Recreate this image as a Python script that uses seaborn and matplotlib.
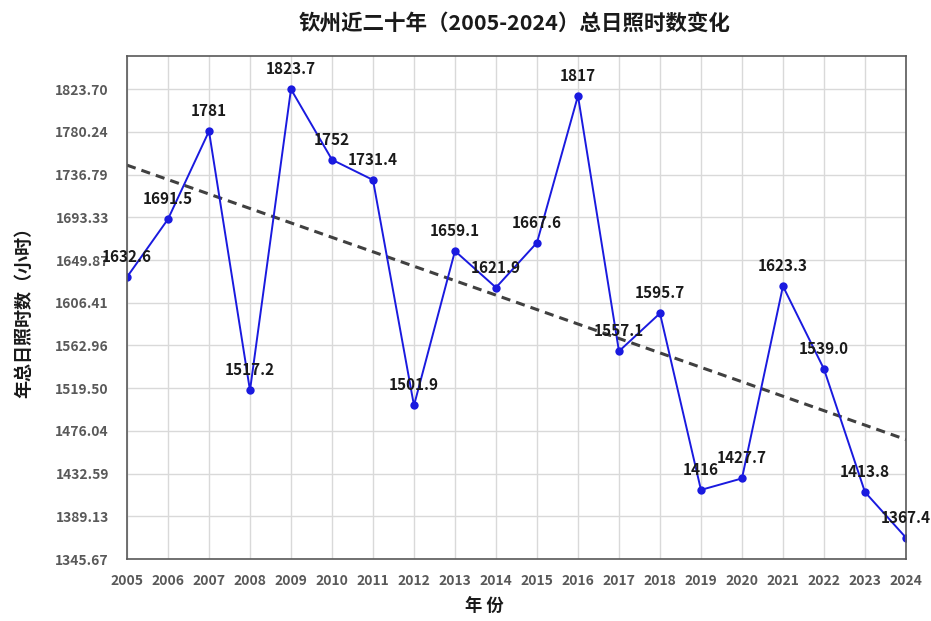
import numpy as np
import pandas as pd
import seaborn as sns
import matplotlib
matplotlib.use("Agg")
import matplotlib.pyplot as plt

years = [2005, 2006, 2007, 2008, 2009, 2010, 2011, 2012, 2013, 2014,
         2015, 2016, 2017, 2018, 2019, 2020, 2021, 2022, 2023, 2024]
sunshine = [1632.6, 1691.5, 1781.0, 1517.2, 1823.7, 1752.0, 1731.4, 1501.9, 1659.1, 1621.9,
            1667.6, 1817.0, 1557.1, 1595.7, 1416.0, 1427.7, 1623.3, 1539.0, 1413.8, 1367.4]
value_labels = ["1632.6", "1691.5", "1781", "1517.2", "1823.7", "1752", "1731.4", "1501.9",
                "1659.1", "1621.9", "1667.6", "1817", "1557.1", "1595.7", "1416", "1427.7",
                "1623.3", "1539.0", "1413.8", "1367.4"]
y_ticks = [1345.67, 1389.13, 1432.59, 1476.04, 1519.50, 1562.96, 1606.41,
           1649.87, 1693.33, 1736.79, 1780.24, 1823.70]

df = pd.DataFrame({"year": years, "hours": sunshine})

sns.set_theme(style="white")
cjk = ["Noto Sans CJK SC", "DejaVu Sans"]
plt.rcParams["font.family"] = cjk

fig = plt.figure(figsize=(9.31, 6.21), dpi=100)
ax = fig.add_axes([0.1364, 0.0998, 0.8367, 0.81])

# linear trend
sns.regplot(data=df, x="year", y="hours", scatter=False, ci=None, ax=ax,
            line_kws=dict(color="#404040", linestyle=(0, (3, 2)), linewidth=2.2))

sns.lineplot(data=df, x="year", y="hours", ax=ax, color="#1a1adf", linewidth=1.4,
             marker="o", markersize=6, markeredgewidth=0, markerfacecolor="#1a1adf")

for x, y, t in zip(years, sunshine, value_labels):
    ax.annotate(t, (x, y), xytext=(0, 20), textcoords="offset pixels",
                ha="center", va="center", fontsize=11, fontweight="bold",
                color="#1a1a1a", family=cjk, zorder=5)

ax.set_xlim(2005, 2024)
ax.set_ylim(1345.67, 1857.5)
ax.set_xticks(years)
ax.set_xticklabels([str(y) for y in years])
ax.set_yticks(y_ticks)
ax.set_yticklabels([f"{v:.2f}" for v in y_ticks])
ax.tick_params(axis="both", length=0, labelsize=10, labelcolor="#595959")
ax.tick_params(axis="y", pad=13)
ax.tick_params(axis="x", pad=11)
for lab in ax.get_xticklabels() + ax.get_yticklabels():
    lab.set_fontweight("bold")

ax.grid(True, color="#d9d9d9", linewidth=1)
for s in ax.spines.values():
    s.set_color("#595959")
    s.set_linewidth(1.2)

ax.set_xlabel("")
ax.set_ylabel("年总日照时数（小时）", fontsize=13, fontweight="bold", color="#1a1a1a", labelpad=16)
fig.text(0.52, 0.022, "年 份", ha="center", va="center",
         fontsize=12.5, fontweight="bold", color="#1a1a1a")
fig.text(0.553, 0.962, "钦州近二十年（2005-2024）总日照时数变化", ha="center", va="center",
         fontsize=15.5, fontweight="bold", color="#1a1a1a")

fig.savefig("out.png", dpi=100)
